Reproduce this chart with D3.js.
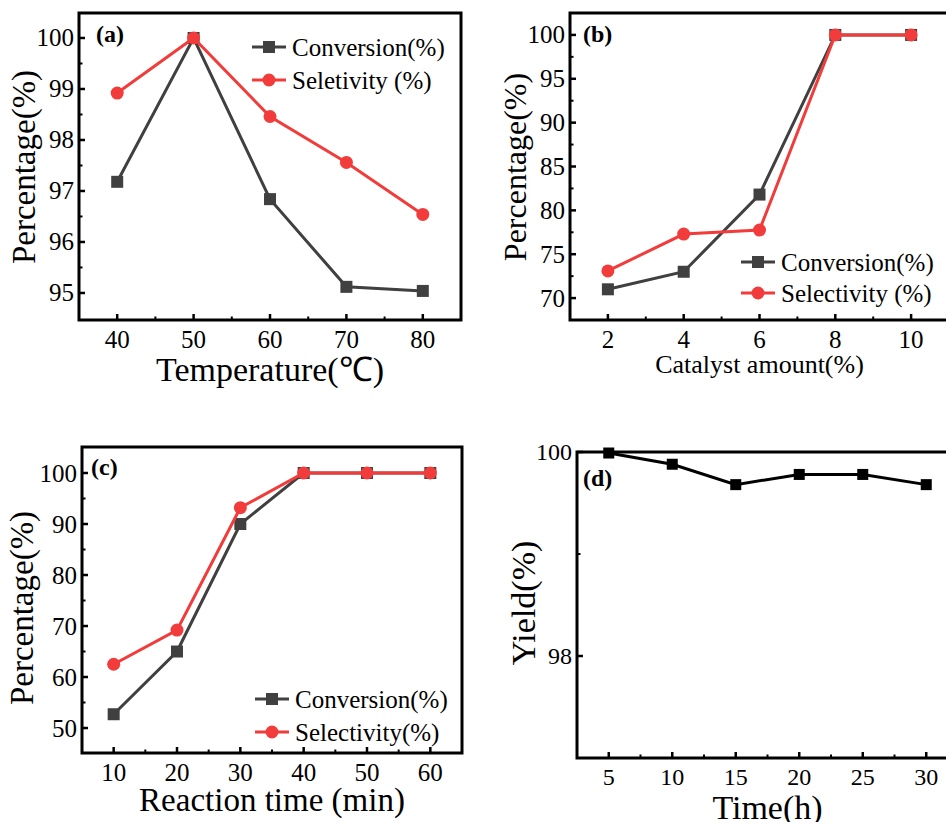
<!DOCTYPE html>
<html>
<head>
<meta charset="utf-8">
<script src="https://cdn.jsdelivr.net/npm/d3@7"></script>
<style>
  body { margin: 0; background: #fff; }
  svg { display: block; font-family: "Liberation Serif", "Times New Roman", serif; }
</style>
</head>
<body>
<div id="chart"></div>
<script>
// (a) temperature
const tempX = [40, 50, 60, 70, 80];
const tempConversion = [97.18, 100, 96.84, 95.12, 95.04];
const tempSelectivity = [98.92, 100, 98.46, 97.56, 96.54];
const tempYTicks = [95, 96, 97, 98, 99, 100];

// (b) catalyst amount
const catX = [2, 4, 6, 8, 10];
const catConversion = [71.0, 73.0, 81.8, 100, 100];
const catSelectivity = [73.1, 77.3, 77.75, 100, 100];
const catYTicks = [70, 75, 80, 85, 90, 95, 100];

// (c) reaction time
const timeX = [10, 20, 30, 40, 50, 60];
const timeConversion = [52.7, 65.0, 90.0, 100, 100, 100];
const timeSelectivity = [62.5, 69.2, 93.2, 100, 100, 100];
const timeYTicks = [50, 60, 70, 80, 90, 100];

// (d) reuse
const reuseX = [5, 10, 15, 20, 25, 30];
const reuseYield = [99.99, 99.88, 99.68, 99.78, 99.78, 99.68];
const reuseYTicks = [98, 100];

const GRAY = "#404040";
const RED = "#f23c3c";

const svg = d3.select("#chart").append("svg")
    .attr("width", 946)
    .attr("height", 822);

function panel(cfg) {
    const x = d3.scaleLinear().domain(cfg.xDomain).range([cfg.left, cfg.right]);
    const y = d3.scaleLinear().domain(cfg.yDomain).range([cfg.bottom, cfg.top]);
    const g = svg.append("g");

    // ticks (inward)
    const xMinor = [];
    for (let i = 0; i < cfg.xTicks.length - 1; i++) xMinor.push((cfg.xTicks[i] + cfg.xTicks[i + 1]) / 2);
    if (cfg.xMinorEnds) xMinor.push(...cfg.xMinorEnds);
    g.selectAll(".xt").data(cfg.xTicks).enter().append("line")
        .attr("x1", d => x(d)).attr("x2", d => x(d))
        .attr("y1", cfg.bottom).attr("y2", cfg.bottom - 6)
        .attr("stroke", "#000").attr("stroke-width", 2.5);
    g.selectAll(".xm").data(xMinor).enter().append("line")
        .attr("x1", d => x(d)).attr("x2", d => x(d))
        .attr("y1", cfg.bottom).attr("y2", cfg.bottom - 3.5)
        .attr("stroke", "#000").attr("stroke-width", 2);
    g.selectAll(".yt").data(cfg.yTicks).enter().append("line")
        .attr("x1", cfg.left).attr("x2", cfg.left + 6)
        .attr("y1", d => y(d)).attr("y2", d => y(d))
        .attr("stroke", "#000").attr("stroke-width", 2.5);
    g.selectAll(".ym").data(cfg.yMinor).enter().append("line")
        .attr("x1", cfg.left).attr("x2", cfg.left + 3.5)
        .attr("y1", d => y(d)).attr("y2", d => y(d))
        .attr("stroke", "#000").attr("stroke-width", 2);

    // frame
    g.append("rect")
        .attr("x", cfg.left).attr("y", cfg.top)
        .attr("width", cfg.right - cfg.left).attr("height", cfg.bottom - cfg.top)
        .attr("fill", "none").attr("stroke", "#000").attr("stroke-width", 3);

    // tick labels
    g.selectAll(".xl").data(cfg.xTicks).enter().append("text")
        .attr("x", d => x(d)).attr("y", cfg.bottom + 19)
        .attr("text-anchor", "middle").attr("dominant-baseline", "central")
        .attr("font-size", cfg.tickSize || 25)
        .text(d => d);
    g.selectAll(".yl").data(cfg.yTicks).enter().append("text")
        .attr("x", cfg.left - 5).attr("y", d => y(d))
        .attr("text-anchor", "end").attr("dominant-baseline", "central")
        .attr("font-size", cfg.tickSize || 25)
        .text(d => d);

    // axis titles
    g.append("text")
        .attr("x", (cfg.left + cfg.right) / 2).attr("y", cfg.xTitleY)
        .attr("text-anchor", "middle")
        .attr("font-size", cfg.xTitleSize)
        .text(cfg.xTitle);
    g.append("text")
        .attr("transform", `translate(${cfg.yTitleX},${cfg.yTitleCY}) rotate(-90)`)
        .attr("text-anchor", "middle")
        .attr("font-size", cfg.yTitleSize)
        .text(cfg.yTitle);

    // panel letter
    g.append("text")
        .attr("x", cfg.letterX).attr("y", cfg.letterY)
        .attr("font-size", 24).attr("font-weight", "bold")
        .text(cfg.letter);

    // series
    const line = d3.line().x(d => x(d[0])).y(d => y(d[1]));
    cfg.series.forEach(s => {
        const pts = cfg.xValues.map((v, i) => [v, s.values[i]]);
        g.append("path").datum(pts)
            .attr("d", line)
            .attr("fill", "none").attr("stroke", s.color).attr("stroke-width", 3);
        if (s.shape === "square") {
            g.selectAll(null).data(pts).enter().append("rect")
                .attr("x", d => x(d[0]) - s.size / 2).attr("y", d => y(d[1]) - s.size / 2)
                .attr("width", s.size).attr("height", s.size)
                .attr("fill", s.color);
        } else {
            g.selectAll(null).data(pts).enter().append("circle")
                .attr("cx", d => x(d[0])).attr("cy", d => y(d[1]))
                .attr("r", s.size / 2)
                .attr("fill", s.color);
        }
    });

    // legend
    if (cfg.legend) {
        cfg.series.forEach((s, i) => {
            const ly = cfg.legend.y + i * cfg.legend.dy;
            const lx = cfg.legend.x;
            g.append("line")
                .attr("x1", lx).attr("x2", lx + 34)
                .attr("y1", ly).attr("y2", ly)
                .attr("stroke", s.color).attr("stroke-width", 3);
            if (s.shape === "square") {
                g.append("rect")
                    .attr("x", lx + 17 - s.size / 2).attr("y", ly - s.size / 2)
                    .attr("width", s.size).attr("height", s.size).attr("fill", s.color);
            } else {
                g.append("circle")
                    .attr("cx", lx + 17).attr("cy", ly).attr("r", s.size / 2).attr("fill", s.color);
            }
            g.append("text")
                .attr("x", lx + 40).attr("y", ly)
                .attr("dominant-baseline", "central")
                .attr("font-size", 25)
                .text(s.name);
        });
    }
}

panel({
    left: 79, right: 461, top: 13, bottom: 320,
    xDomain: [35, 85], yDomain: [94.47, 100.49],
    xTicks: tempX, yTicks: tempYTicks, yMinor: [95.5, 96.5, 97.5, 98.5, 99.5],
    xValues: tempX,
    xTitle: "Temperature(℃)", xTitleY: 381, xTitleSize: 34,
    yTitle: "Percentage(%)", yTitleX: 35, yTitleCY: 167, yTitleSize: 33,
    letter: "(a)", letterX: 96, letterY: 42,
    series: [
        { name: "Conversion(%)", values: tempConversion, color: GRAY, shape: "square", size: 12 },
        { name: "Seletivity (%)", values: tempSelectivity, color: RED, shape: "circle", size: 13 }
    ],
    legend: { x: 252, y: 47, dy: 33 }
});

panel({
    left: 570, right: 949, top: 13, bottom: 320,
    xDomain: [1, 11], yDomain: [67.5, 102.5],
    xTicks: catX, yTicks: catYTicks, yMinor: [72.5, 77.5, 82.5, 87.5, 92.5, 97.5],
    xValues: catX,
    xTitle: "Catalyst amount(%)", xTitleY: 373, xTitleSize: 26,
    yTitle: "Percentage(%)", yTitleX: 526, yTitleCY: 167, yTitleSize: 32,
    letter: "(b)", letterX: 583, letterY: 42,
    series: [
        { name: "Conversion(%)", values: catConversion, color: GRAY, shape: "square", size: 12 },
        { name: "Selectivity (%)", values: catSelectivity, color: RED, shape: "circle", size: 13 }
    ],
    legend: { x: 741, y: 262, dy: 31 }
});

panel({
    left: 82, right: 462, top: 447, bottom: 753,
    xDomain: [5, 65], yDomain: [45.1, 105.1],
    xTicks: timeX, yTicks: timeYTicks, yMinor: [55, 65, 75, 85, 95],
    xValues: timeX,
    xTitle: "Reaction time (min)", xTitleY: 811, xTitleSize: 33,
    yTitle: "Percentage(%)", yTitleX: 33, yTitleCY: 608, yTitleSize: 33,
    letter: "(c)", letterX: 91, letterY: 475,
    series: [
        { name: "Conversion(%)", values: timeConversion, color: GRAY, shape: "square", size: 12 },
        { name: "Selectivity(%)", values: timeSelectivity, color: RED, shape: "circle", size: 13 }
    ],
    legend: { x: 255, y: 699, dy: 33 }
});

panel({
    left: 577, right: 958, top: 452, bottom: 758,
    xDomain: [2.5, 32.5], yDomain: [97, 100],
    xTicks: reuseX, yTicks: reuseYTicks, yMinor: [99], xMinorEnds: [32.5],
    xValues: reuseX, tickSize: 24,
    xTitle: "Time(h)", xTitleY: 819, xTitleSize: 34,
    yTitle: "Yield(%)", yTitleX: 535, yTitleCY: 603, yTitleSize: 34,
    letter: "(d)", letterX: 583, letterY: 486,
    series: [
        { name: "Yield", values: reuseYield, color: "#000", shape: "square", size: 11 }
    ],
    legend: null
});
</script>
</body>
</html>
